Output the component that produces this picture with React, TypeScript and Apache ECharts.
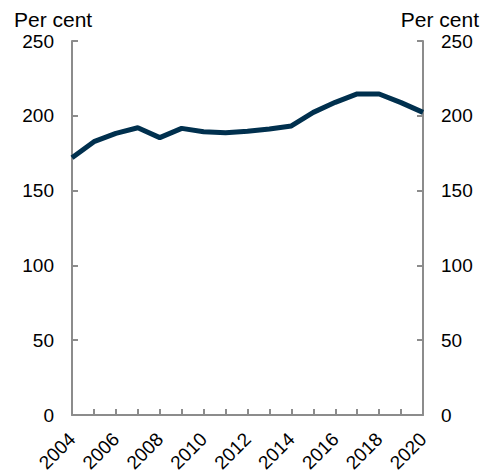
import React, { useEffect, useRef } from "react";
import * as echarts from "echarts";

const years = ["2004","2005","2006","2007","2008","2009","2010","2011","2012","2013","2014","2015","2016","2017","2018","2019","2020"];
const values = [172, 182.7, 188.3, 192, 185.4, 191.6, 189.4, 188.7, 189.6, 191.2, 193.2, 202.3, 209, 214.6, 214.6, 208.8, 202.3];
const axisTitle = "Per cent";

const FONT = "'Liberation Sans', Arial, sans-serif";
const AXIS_COLOR = "#8c8c8c";

export default function App() {
  const ref = useRef<HTMLDivElement>(null);
  useEffect(() => {
    if (!ref.current) return;
    const chart = echarts.init(ref.current, undefined, { renderer: "svg" });
    const yAxisCommon = {
      type: "value",
      min: 0,
      max: 250,
      interval: 50,
      splitLine: { show: false },
      axisLine: { show: true, lineStyle: { color: AXIS_COLOR, width: 2 } },
      axisTick: { show: true, inside: true, length: 6, lineStyle: { color: AXIS_COLOR, width: 2 } },
      axisLabel: { color: "#000", fontSize: 19, fontFamily: FONT, margin: 18 },
    };
    chart.setOption({
      animation: false,
      grid: { left: 72, right: 68, top: 41, bottom: 57, containLabel: false, outerBoundsMode: "none" },
      graphic: [
        { type: "text", left: 14, top: 9, style: { text: axisTitle, font: `21px ${FONT}`, fill: "#000" } },
        { type: "text", right: 12, top: 9, style: { text: axisTitle, font: `21px ${FONT}`, fill: "#000" } },
      ],
      xAxis: {
        type: "category",
        data: years,
        boundaryGap: false,
        axisLine: { show: true, lineStyle: { color: AXIS_COLOR, width: 2 } },
        axisTick: { show: true, inside: true, length: 6, interval: 0, lineStyle: { color: AXIS_COLOR, width: 2 } },
        axisLabel: { interval: 1, rotate: 45, color: "#000", fontSize: 19, fontFamily: FONT, margin: 21 },
      },
      yAxis: [
        { ...yAxisCommon, position: "left" },
        { ...yAxisCommon, position: "right" },
      ],
      series: [
        {
          type: "line",
          data: values,
          yAxisIndex: 0,
          symbol: "none",
          lineStyle: { color: "#00304E", width: 5 },
        },
      ],
    });
    return () => chart.dispose();
  }, []);
  return <div ref={ref} style={{ width: 491, height: 472, position: "absolute", left: 0, top: 0 }} />;
}
